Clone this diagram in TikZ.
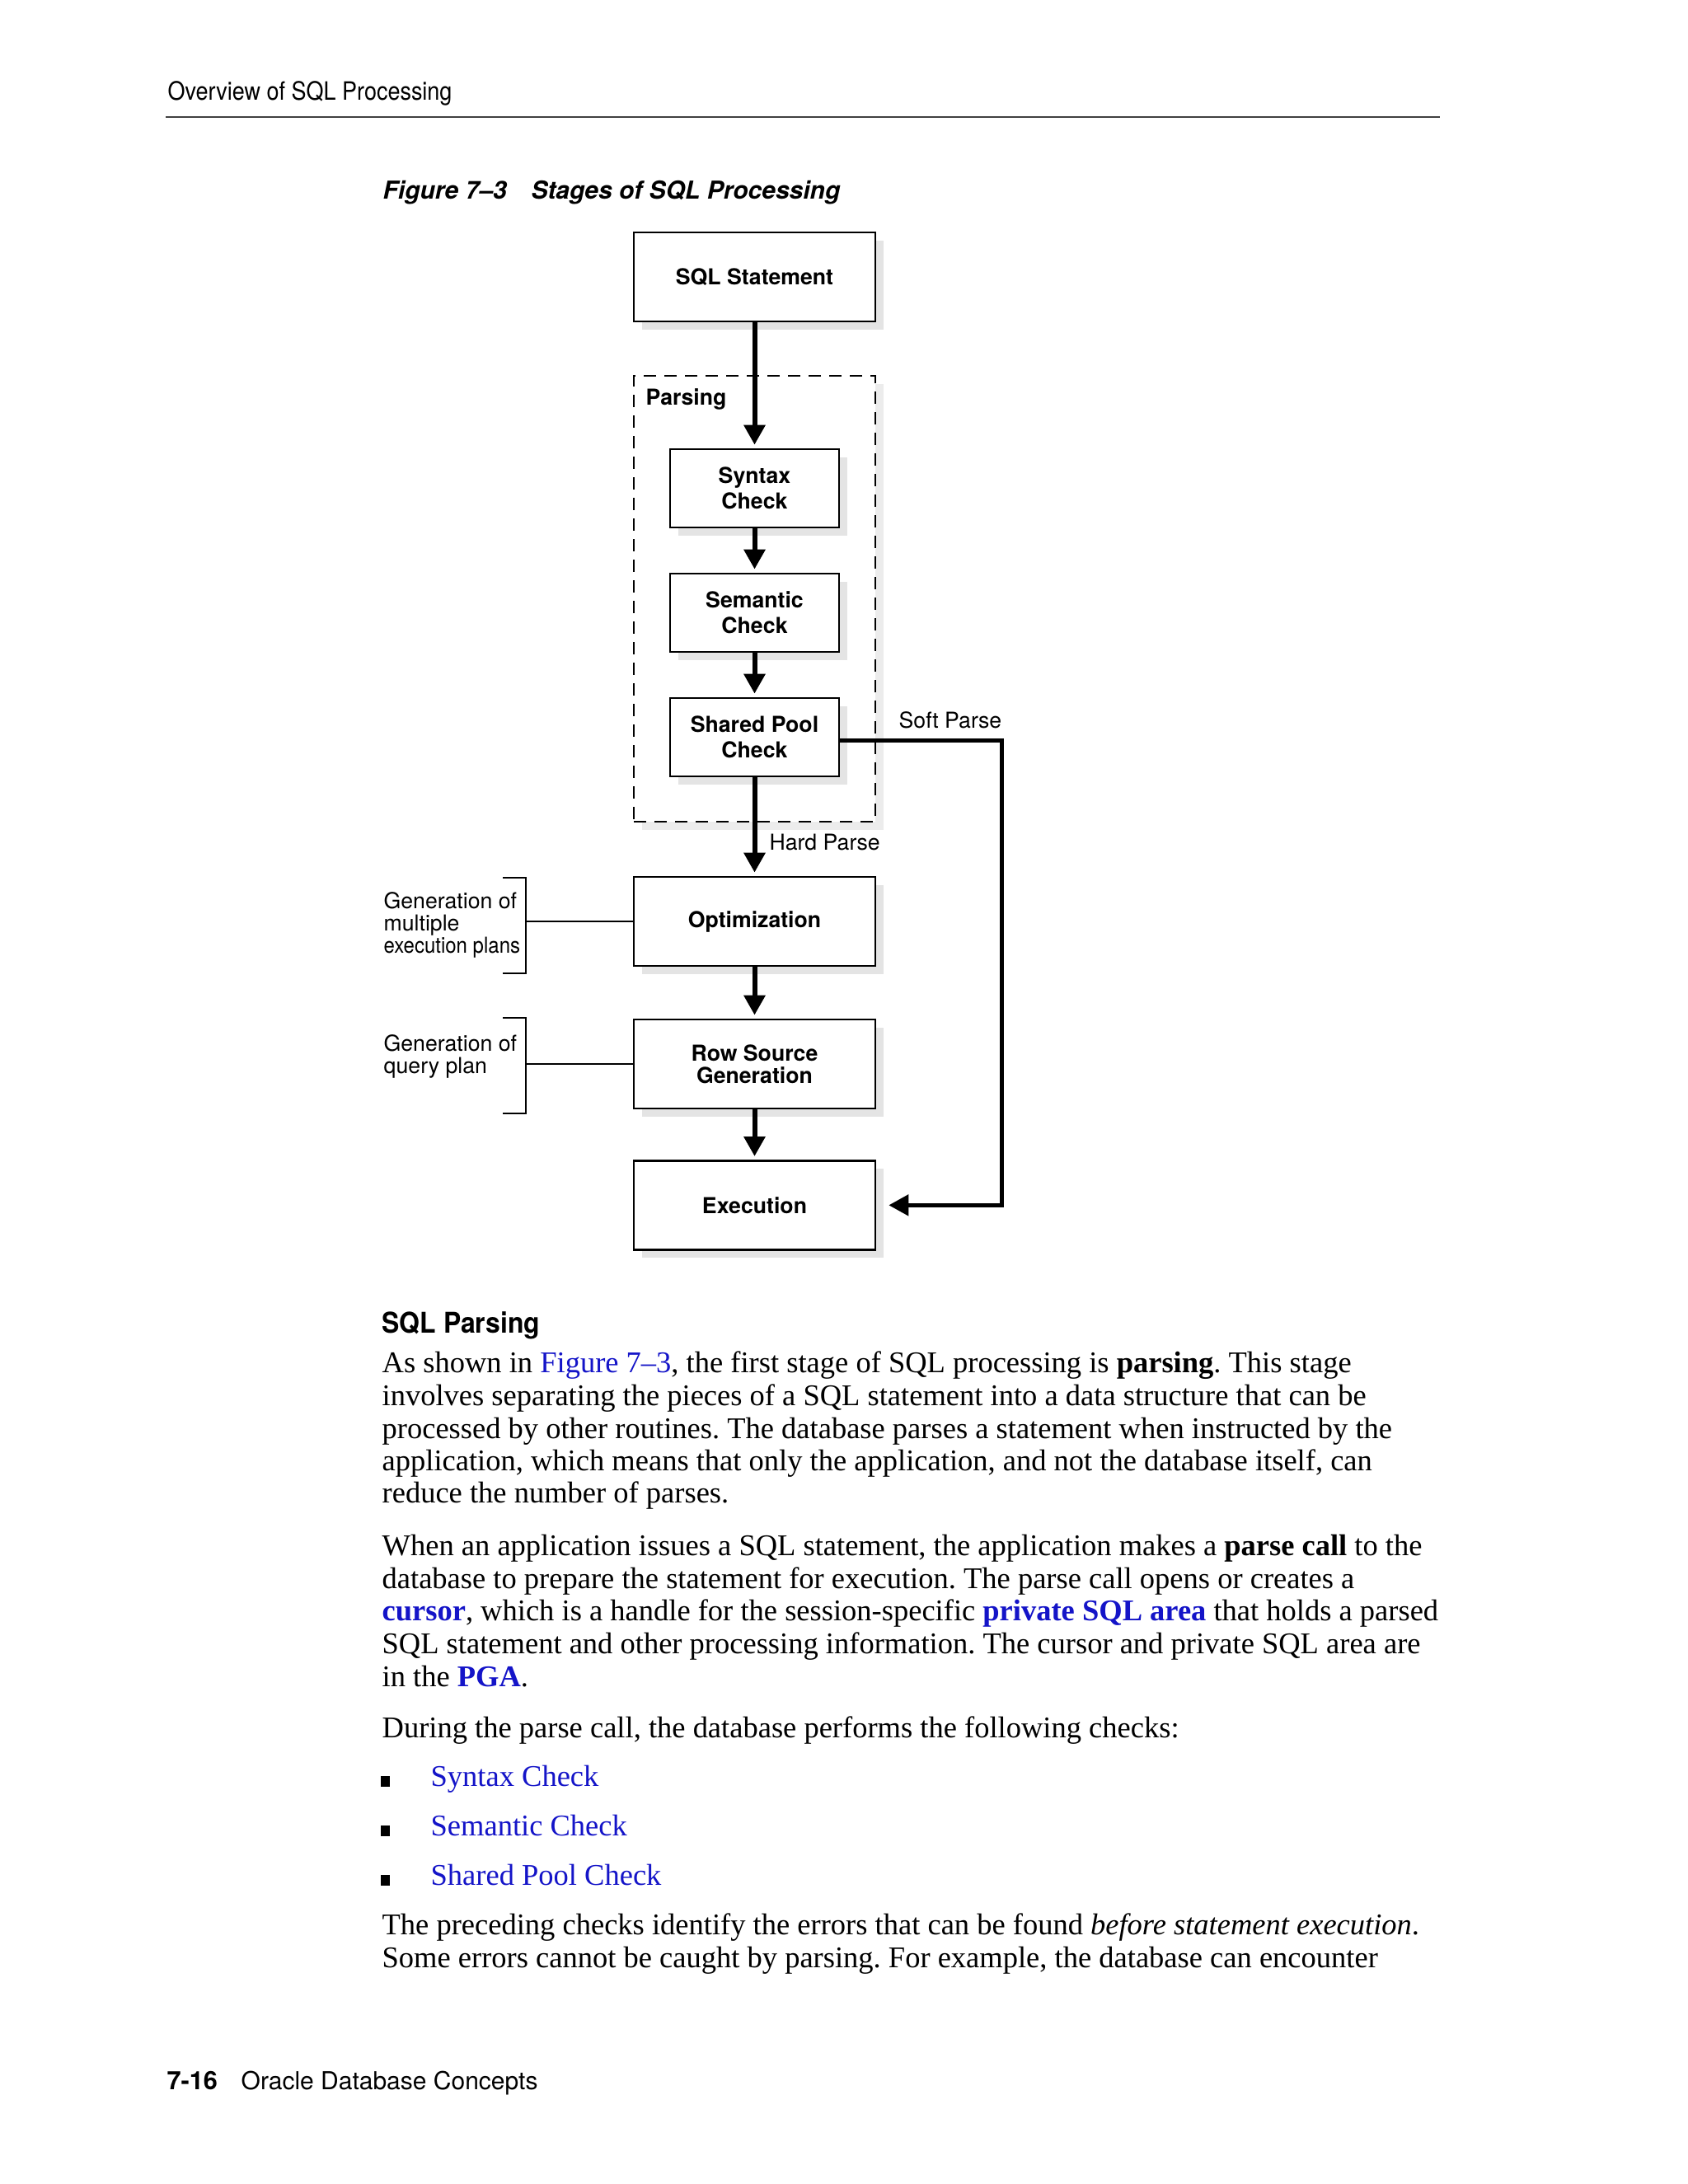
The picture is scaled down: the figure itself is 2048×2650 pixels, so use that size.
\documentclass[tikz,border=0pt]{standalone}
\usepackage{fontspec}
\usepackage{graphicx}
\usetikzlibrary{arrows.meta, positioning, shadows}
\newfontfamily\heros{TeX Gyre Heros}
\newfontfamily\bodyfont{Liberation Serif}
\definecolor{linkblue}{RGB}{20,20,200}
\definecolor{shadowgray}{RGB}{228,228,228}
\newcommand{\lnk}[1]{\textcolor{linkblue}{#1}}
\frenchspacing
\tikzset{
    stage/.style={rectangle, draw=black, line width=0.8pt, fill=white, align=center, inner sep=2pt,
        font=\heros\bfseries\fontsize{8}{9.3}\selectfont,
        drop shadow={shadow xshift=3pt, shadow yshift=-3pt, fill=shadowgray, opacity=1}},
    mainstage/.style={stage, minimum width=87.9pt, minimum height=32.4pt},
    check/.style={stage, minimum width=61.5pt, minimum height=28.5pt},
    parseframe/.style={rectangle, draw=black, dash pattern=on 4.5pt off 3pt, line width=0.8pt, fill=white,
        minimum width=87.9pt, minimum height=162.3pt,
        drop shadow={shadow xshift=3pt, shadow yshift=-3pt, fill=shadowgray!70, opacity=1}},
    flow/.style={line width=1.8pt, -{Triangle[width=7.5pt, length=7.2pt]}, shorten >=1.2pt},
    softflow/.style={line width=1.5pt, -{Triangle[width=7.5pt, length=7.2pt]}},
    tag/.style={font=\heros\fontsize{8}{8.1}\selectfont, inner sep=0pt, align=left},
    bracket/.style={line width=0.6pt},
    bodyline/.style={anchor=base west, inner sep=0pt, font=\bodyfont\fontsize{10.95}{12}\selectfont},
    pagetext/.style={anchor=base west, inner sep=0pt}
}

\begin{document}
\begin{tikzpicture}[x=0.3pt, y=-0.3pt]
\fill[white] (0,0) rectangle (2048,2650);
\useasboundingbox (0,0) rectangle (2048,2650);

% Running head
\node[pagetext, font=\heros\fontsize{9.2}{11}\selectfont] (runhead) at (203,121) {\scalebox{0.88}[1]{Overview of SQL Processing}};
\draw[black!75, line width=0.45pt] (201,142) -- (1747,142);

% Caption
\node[pagetext, font=\heros\bfseries\itshape\fontsize{9}{11}\selectfont] (figno) at (464,241) {Figure 7–3};
\node[pagetext, font=\heros\bfseries\itshape\fontsize{9}{11}\selectfont] (figtitle) at (644,241) {Stages of SQL Processing};

% Parsing frame
\node[parseframe] (parsebox) at (915.5,726.5) {};
\node[anchor=west, inner sep=0pt, font=\heros\bfseries\fontsize{8}{9}\selectfont] (parselbl) at (783,484) {Parsing};

% Stages
\node[mainstage] (sqlstmt) at (915.5,336) {SQL Statement};
\node[check, below=45.7pt of sqlstmt] (syntax) {Syntax\\Check};
\node[check, below=16pt of syntax] (semantic) {Semantic\\Check};
\node[check, below=16pt of semantic] (sharedpool) {Shared Pool\\Check};
\node[mainstage, below=35.8pt of sharedpool] (optim) {Optimization};
\node[mainstage, below=18.7pt of optim, font=\heros\bfseries\fontsize{8}{8.1}\selectfont] (rowsource) {Row Source\\Generation};
\node[mainstage, below=18.2pt of rowsource] (execution) {Execution};

% Main flow
\draw[flow] (sqlstmt) -- (syntax);
\draw[flow] (syntax) -- (semantic);
\draw[flow] (semantic) -- (sharedpool);
\draw[flow] (sharedpool) -- node[tag, pos=0.66, anchor=west, xshift=4.5pt] (hardlbl) {Hard Parse} (optim);
\draw[flow] (optim) -- (rowsource);
\draw[flow] (rowsource) -- (execution);

% Soft parse bypass
\coordinate (bypass) at (1215.5,898);
\draw[softflow, shorten >=4.5pt] (sharedpool.east |- bypass) -- (bypass) -- (bypass |- execution.east) -- (execution.east);
\node[tag, anchor=west] (softlbl) at (1090,874) {Soft Parse};

% Side notes
\coordinate (plansbrk) at (638,1123);
\draw[bracket] (610,1065) -| (plansbrk) |- (610,1181);
\draw[bracket] (plansbrk |- optim.west) -- (optim.west);
\node[tag, anchor=west] (plansnote) at (465,1122) {Generation of\\multiple\\\scalebox{0.9}[1]{execution plans}};

\coordinate (querybrk) at (638,1293);
\draw[bracket] (610,1235) -| (querybrk) |- (610,1351);
\draw[bracket] (querybrk |- rowsource.west) -- (rowsource.west);
\node[tag, anchor=west] (querynote) at (465,1281.5) {Generation of\\query plan};

% Section text
\node[pagetext, font=\heros\bfseries\fontsize{10.4}{12}\selectfont] (sectitle) at (463,1617) {\scalebox{0.92}[1]{SQL Parsing}};

\node[bodyline] (para1a) at (463,1665) {As shown in \lnk{Figure 7–3}, the first stage of SQL processing is \textbf{parsing}. This stage};
\node[bodyline] (para1b) at (463,1705) {involves separating the pieces of a SQL statement into a data structure that can be};
\node[bodyline] (para1c) at (463,1745) {processed by other routines. The database parses a statement when instructed by the};
\node[bodyline] (para1d) at (463,1784) {application, which means that only the application, and not the database itself, can};
\node[bodyline] (para1e) at (463,1823) {reduce the number of parses.};

\node[bodyline] (para2a) at (463,1887) {When an application issues a SQL statement, the application makes a \textbf{parse call} to the};
\node[bodyline] (para2b) at (463,1927) {database to prepare the statement for execution. The parse call opens or creates a};
\node[bodyline] (para2c) at (463,1966) {\lnk{\textbf{cursor}}, which is a handle for the session-specific \lnk{\textbf{private SQL area}} that holds a parsed};
\node[bodyline] (para2d) at (463,2006) {SQL statement and other processing information. The cursor and private SQL area are};
\node[bodyline] (para2e) at (463,2046) {in the \lnk{\textbf{PGA}}.};

\node[bodyline] (para3) at (463,2108) {During the parse call, the database performs the following checks:};

\foreach \yy/\chk [count=\i] in {2167/Syntax Check, 2227/Semantic Check, 2287/Shared Pool Check} {
    \fill (462,\yy-12) rectangle (473,\yy+1);
    \node[bodyline] (check\i) at (522,\yy) {\lnk{\chk}};
}

\node[bodyline] (para4a) at (463,2347) {The preceding checks identify the errors that can be found \textit{before statement execution}.};
\node[bodyline] (para4b) at (463,2387) {Some errors cannot be caught by parsing. For example, the database can encounter};

% Footer
\node[pagetext, font=\heros\bfseries\fontsize{9.2}{11}\selectfont] (pageno) at (202,2535) {7-16};
\node[pagetext, font=\heros\fontsize{9}{11}\selectfont] (booktitle) at (292,2535) {Oracle Database Concepts};

\end{tikzpicture}
\end{document}
